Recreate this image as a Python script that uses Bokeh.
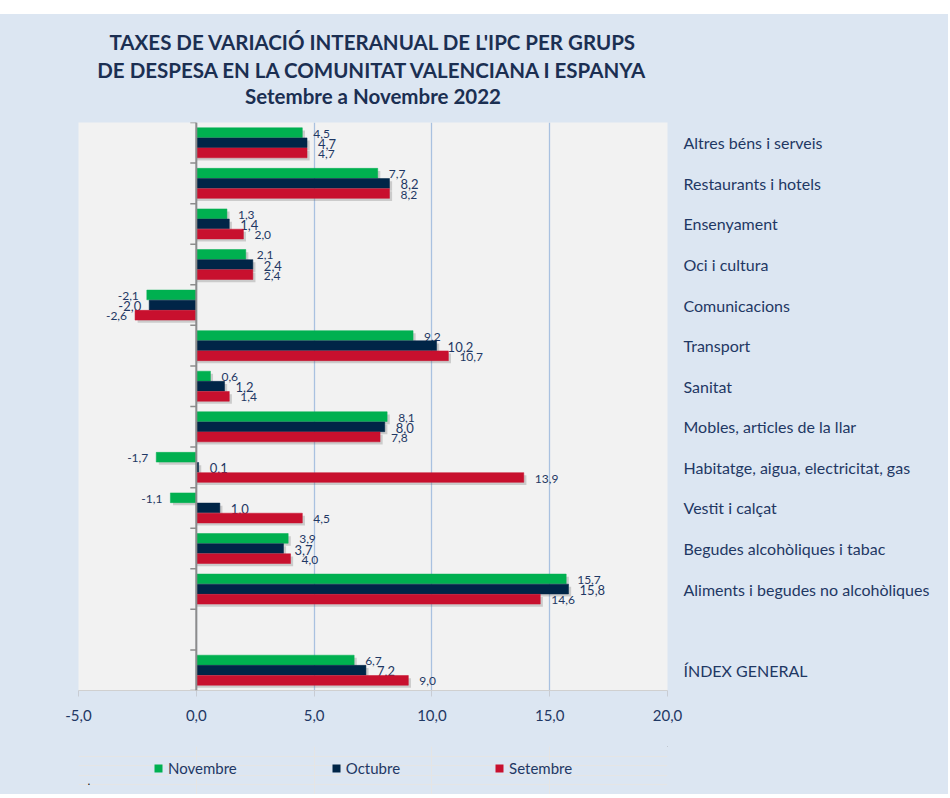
import numpy as np
from bokeh.plotting import figure
from bokeh.models import (ColumnDataSource, Range1d, FixedTicker, Title, Legend,
                          LegendItem, Span, Spacer, Label)
from bokeh.layouts import column
from bokeh.embed import file_html
from bokeh.resources import INLINE
from bokeh.core.properties import value

# ---------------- data (top to bottom) ----------------
categories = ["Altres béns i serveis", "Restaurants i hotels", "Ensenyament",
              "Oci i cultura", "Comunicacions", "Transport", "Sanitat",
              "Mobles, articles de la llar", "Habitatge, aigua, electricitat, gas",
              "Vestit i calçat", "Begudes alcohòliques i tabac",
              "Aliments i begudes no alcohòliques", "", "ÍNDEX GENERAL"]
novembre = [4.5, 7.7, 1.3, 2.1, -2.1, 9.2, 0.6, 8.1, -1.7, -1.1, 3.9, 15.7, None, 6.7]
octubre = [4.7, 8.2, 1.4, 2.4, -2.0, 10.2, 1.2, 8.0, 0.1, 1.0, 3.7, 15.8, None, 7.2]
setembre = [4.7, 8.2, 2.0, 2.4, -2.6, 10.7, 1.4, 7.8, 13.9, 4.5, 4.0, 14.6, None, 9.0]
series_names = ["Novembre", "Octubre", "Setembre"]
x_ticks = [-5, 0, 5, 10, 15, 20]
title_lines = ["TAXES DE VARIACIÓ INTERANUAL DE L'IPC PER GRUPS",
               "DE DESPESA EN LA COMUNITAT VALENCIANA I ESPANYA",
               "Setembre a Novembre 2022"]

# ---------------- style ----------------
colors = ["#00b050", "#002547", "#c8102e"]
offsets = [0.25, 0.0, -0.25]
label_sizes = ["12px", "13px", "12px"]
TXT = "#1f3864"
BG = "#dce6f2"
FONT = "Lato"
W = 948

n = len(categories)
centers = [n - i - 0.5 for i in range(n)]

p = figure(width=W, height=732, output_backend="svg", toolbar_location=None,
           x_range=Range1d(-5, 20), y_range=Range1d(0, n),
           y_axis_location="right")
p.min_border_left = 78
p.min_border_right = 281
p.min_border_top = 108
p.min_border_bottom = 56
p.border_fill_color = BG
p.background_fill_color = "#f2f2f2"
p.outline_line_color = None

# grid
p.xgrid.ticker = FixedTicker(ticks=x_ticks)
p.xgrid.grid_line_color = "#a9c1e0"
p.xgrid.grid_line_width = 1.3
p.ygrid.grid_line_color = None

# x axis
p.xaxis.ticker = FixedTicker(ticks=x_ticks)
p.xaxis.major_label_overrides = {t: f"{t:.1f}".replace(".", ",") for t in x_ticks}
p.xaxis.axis_line_color = "#d0d0d0"
p.xaxis.major_tick_line_color = "#c8ccd4"
p.xaxis.major_tick_out = 6
p.xaxis.major_tick_in = 0
p.xaxis.minor_tick_line_color = None
p.xaxis.major_label_text_font_size = "15px"
p.xaxis.major_label_text_color = TXT
p.xaxis.major_label_text_font = FONT
p.xaxis.major_label_standoff = 13

# right category axis
yticks = [c for c, name in zip(centers, categories) if name]
p.yaxis.ticker = FixedTicker(ticks=yticks)
p.yaxis.major_label_overrides = {c: name for c, name in zip(centers, categories) if name}
p.yaxis.axis_line_color = None
p.yaxis.major_tick_line_color = None
p.yaxis.minor_tick_line_color = None
p.yaxis.major_tick_out = 0
p.yaxis.major_tick_in = 0
p.yaxis.minor_tick_out = 0
p.yaxis.major_label_standoff = 16
p.yaxis.major_label_text_font_size = "16px"
p.yaxis.major_label_text_color = TXT
p.yaxis.major_label_text_font = FONT

# shadows
dx, dy = 0.11, -0.065
series = [novembre, octubre, setembre]
for vals, off in zip(series, offsets):
    ys = [c + off for c, v in zip(centers, vals) if v is not None]
    vs = np.array([v for v in vals if v is not None])
    left = np.where(vs < 0, vs + dx, 0)
    right = np.where(vs < 0, 0, vs + dx)
    p.hbar(y=np.array(ys) + dy, left=left, right=right, height=0.24,
           fill_color="#6f6f6f", fill_alpha=0.3, line_color=None)

# bars and labels
for vals, off, col, name, lsz in zip(series, offsets, colors, series_names, label_sizes):
    ys = [c + off for c, v in zip(centers, vals) if v is not None]
    vs = [v for v in vals if v is not None]
    src = ColumnDataSource(dict(y=ys, v=vs))
    p.hbar(y="y", left=0, right="v", height=0.24, source=src,
           fill_color=col, line_color=col, line_width=0.5)
    pos = ColumnDataSource(dict(y=[y for y, v in zip(ys, vs) if v >= 0],
                                v=[v for v in vs if v >= 0],
                                lab=[f"{v:.1f}".replace(".", ",") for v in vs if v >= 0]))
    neg = ColumnDataSource(dict(y=[y for y, v in zip(ys, vs) if v < 0],
                                v=[v for v in vs if v < 0],
                                lab=[f"{v:.1f}".replace(".", ",") for v in vs if v < 0]))
    p.text(x="v", y="y", text="lab", source=pos, x_offset=11, y_offset=1,
           text_align="left", text_baseline="middle", text_font_size=lsz,
           text_color=TXT, text_font=value(FONT))
    p.text(x="v", y="y", text="lab", source=neg, x_offset=-8, y_offset=1,
           text_align="right", text_baseline="middle", text_font_size=lsz,
           text_color=TXT, text_font=value(FONT))

# vertical axis at zero with ticks
p.add_layout(Span(location=0, dimension="height", line_color="#8c8c8c", line_width=2))
p.ray(x=0, y=list(range(n + 1)), length=6, length_units="screen", angle=np.pi,
      line_color="#8c8c8c", line_width=1.5)

# titles (first added is closest to the plot frame)
p.add_layout(Title(text=" ", text_font_size="6px", standoff=7), "above")
title_standoffs = [3, 0, 0]
for t, s in zip(reversed(title_lines), reversed(title_standoffs)):
    p.add_layout(Title(text=t, align="center", text_font_size="20.5px",
                       text_font_style="bold", text_color="#1b2f52",
                       text_font=FONT, standoff=s), "above")

# legend strip (separate figure below the chart; its frame aligns with the chart's)
lg = figure(width=W, height=48, output_backend="svg", toolbar_location=None,
            x_range=Range1d(0, 1), y_range=Range1d(0, 1),
            x_axis_location=None, y_axis_location=None)
lg.min_border = 0
lg.border_fill_color = BG
lg.background_fill_color = None
lg.outline_line_color = None
items = []
for nm, col in zip(series_names, colors):
    r = lg.hbar(y=[50], left=[50], right=[51], height=0.5, fill_color=col, line_color=None)
    items.append(LegendItem(label=nm, renderers=[r]))
legend = Legend(items=items, orientation="horizontal", location=(75, 17),
                glyph_width=10, glyph_height=10, label_standoff=5, spacing=94,
                padding=0, margin=0, border_line_color=None, background_fill_alpha=0,
                label_text_font_size="15px", label_text_color=TXT, label_text_font=FONT)
lg.add_layout(legend, "center")
lg.add_layout(Label(x=0.015, y=0.2, text=".", text_font_size="12px", text_color="#000000"))

layout = column(Spacer(width=W, height=14, styles={"background-color": "#ffffff"}),
                p, lg, spacing=0, styles={"background-color": BG})
open("out.html", "w").write(file_html(layout, INLINE))
